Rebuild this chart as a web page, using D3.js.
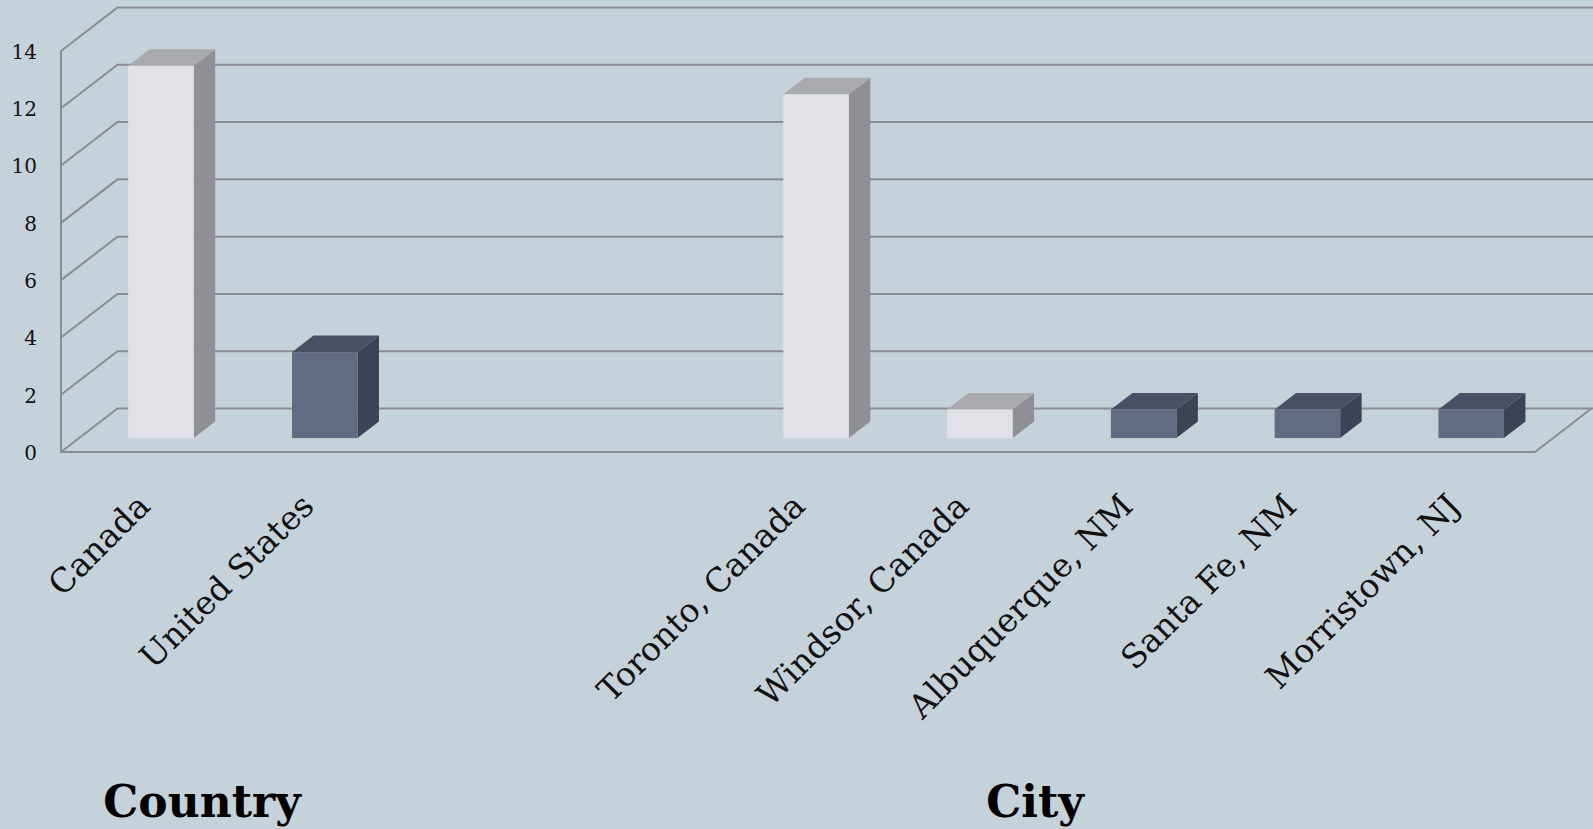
<!DOCTYPE html>
<html>
<head>
<meta charset="utf-8">
<script src="https://cdn.jsdelivr.net/npm/d3@7"></script>
<style>
  html, body { margin: 0; padding: 0; background: #c6d2d9; }
  svg { display: block; }
</style>
</head>
<body>
<div id="chart"></div>
<script>
// data
const categories = ['Canada', 'United States', '', '', 'Toronto, Canada', 'Windsor, Canada', 'Albuquerque, NM', 'Santa Fe, NM', 'Morristown, NJ'];
const values = [13, 3, null, null, 12, 1, 1, 1, 1];
const countryOf = ['Canada', 'United States', null, null, 'Canada', 'Canada', 'United States', 'United States', 'United States'];
const yTicks = [0, 2, 4, 6, 8, 10, 12, 14];
const groupTitles = ['Country', 'City'];

const W = 1593, H = 829;
const X0 = 61, X1 = 1535;          // front floor edge
const DX = 56.5, DY = -43.5;       // full depth offset
const T0 = 0.32, T1 = 0.70;        // bar depth band
const gridColor = '#8a8d90';

const svg = d3.select('#chart').append('svg')
  .attr('width', W).attr('height', H)
  .attr('viewBox', `0 0 ${W} ${H}`);

svg.append('rect').attr('width', W).attr('height', H).attr('fill', '#c6d2d9');

const x = d3.scaleBand().domain(d3.range(categories.length)).range([X0, X1]).paddingInner(0).paddingOuter(0);
const y = d3.scaleLinear().domain([0, 14]).range([452, 51]);

// project front-plane coords into the depth
const pt = (px, v, t) => [px + t * DX, y(v) + t * DY];

const colors = d3.scaleOrdinal()
  .domain(['Canada', 'United States'])
  .range([
    { front: '#e0e2e7', top: '#a9aaae', side: '#8e9095' },
    { front: '#636a84', top: '#4b4f66', side: '#3e4257' }
  ]);

// walls / gridlines
const grid = svg.append('g').attr('class', 'grid')
  .attr('stroke', gridColor).attr('stroke-width', 2).attr('fill', 'none');

grid.selectAll('path.side').data(yTicks).enter().append('path')
  .attr('class', 'side')
  .attr('d', d => d3.line()([pt(X0, d, 0), pt(X0, d, 1), [W + 5, pt(X0, d, 1)[1]]]));

// front axis and floor
grid.append('path')
  .attr('d', d3.line()([pt(X0, 14, 0), pt(X0, 0, 0), pt(X1, 0, 0), pt(X1, 0, 1)]));

// y axis labels
const yAxis = svg.append('g')
  .attr('transform', `translate(${X0},1)`)
  .call(d3.axisLeft(y).tickValues(yTicks).tickSize(0).tickPadding(24));
yAxis.select('.domain').remove();
yAxis.selectAll('text')
  .attr('font-family', "'DejaVu Serif', serif")
  .attr('font-size', 20)
  .attr('fill', '#111');

// bars
const bw = x.bandwidth() * 0.4;
const bars = svg.append('g').attr('class', 'bars')
  .selectAll('g').data(categories.map((c, i) => ({ c, i, v: values[i], k: countryOf[i] })).filter(d => d.v != null))
  .enter().append('g');

bars.each(function (d) {
  const g = d3.select(this);
  const col = colors(d.k);
  const cx = x(d.i) + x.bandwidth() / 2 - bw / 2;
  const [fx, fTop] = pt(cx, d.v, T0);
  const [, fBot] = pt(cx, 0, T0);
  const ddx = (T1 - T0) * DX, ddy = (T1 - T0) * DY;
  g.append('path').attr('fill', col.side)
    .attr('d', d3.line()([[fx + bw, fTop], [fx + bw + ddx, fTop + ddy], [fx + bw + ddx, fBot + ddy], [fx + bw, fBot]]) + 'Z');
  g.append('path').attr('fill', col.top)
    .attr('d', d3.line()([[fx, fTop], [fx + bw, fTop], [fx + bw + ddx, fTop + ddy], [fx + ddx, fTop + ddy]]) + 'Z');
  g.append('rect').attr('fill', col.front)
    .attr('x', fx).attr('y', fTop).attr('width', bw).attr('height', fBot - fTop);
});

// category labels
svg.append('g').attr('class', 'xlabels')
  .selectAll('text').data(categories.map((c, i) => ({ c, i })).filter(d => d.c))
  .enter().append('text')
  .attr('transform', d => `translate(${x(d.i) + x.bandwidth() / 2 + 9},508) rotate(-45)`)
  .attr('text-anchor', 'end')
  .attr('font-family', "'DejaVu Serif', serif")
  .attr('font-size', 33)
  .attr('fill', '#111')
  .text(d => d.c);

// group titles
const titlePos = [202, 1035];
svg.append('g').attr('class', 'titles')
  .selectAll('text').data(groupTitles).enter().append('text')
  .attr('x', (d, i) => titlePos[i])
  .attr('y', 817)
  .attr('text-anchor', 'middle')
  .attr('font-family', "'DejaVu Serif', serif")
  .attr('font-weight', 'bold')
  .attr('font-size', 44)
  .attr('fill', '#000')
  .text(d => d);
</script>
</body>
</html>
